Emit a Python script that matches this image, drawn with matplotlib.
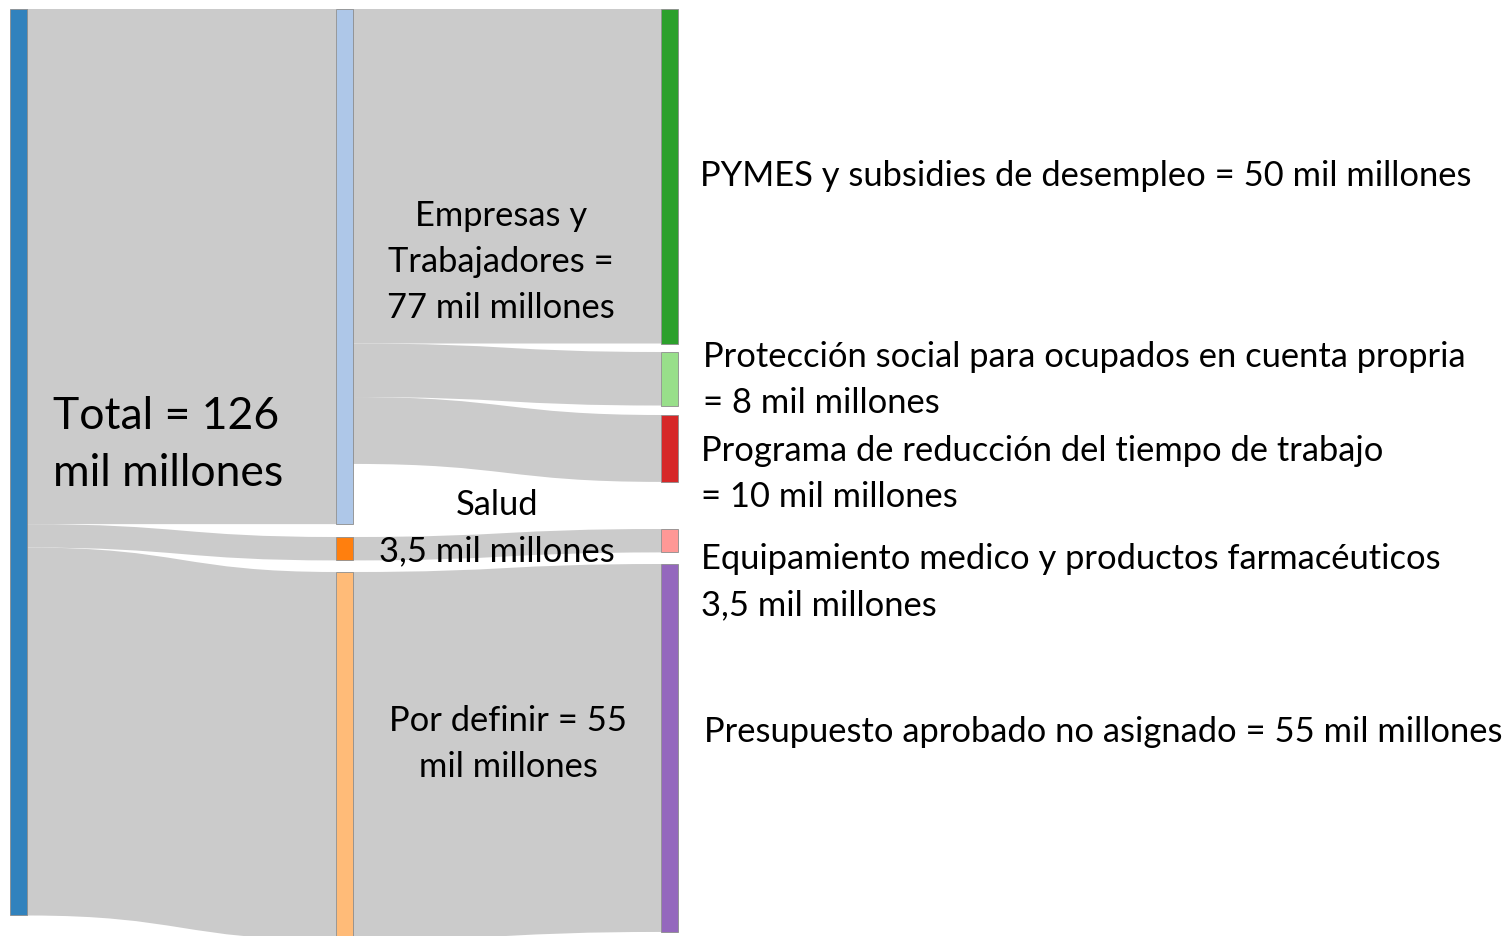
import matplotlib
matplotlib.use("Agg")
import matplotlib.pyplot as plt
from matplotlib.path import Path
from matplotlib.patches import PathPatch, Rectangle

# ---------------- data ----------------
node_names = ["Total", "Empresas y Trabajadores", "Salud", "Por definir",
              "PYMES y subsidies de desempleo", "Protección social",
              "Programa de reducción del tiempo de trabajo",
              "Equipamiento medico", "Presupuesto aprobado no asignado"]
node_values = [135.5, 77, 3.5, 55, 50, 8, 10, 3.5, 55]
node_colors = ["#3182bd", "#aec7e8", "#ff7f0e", "#ffbb78", "#2ca02c",
               "#98df8a", "#d62728", "#ff9896", "#9467bd"]
link_source = [0, 0, 0, 1, 1, 1, 2, 3]
link_target = [1, 2, 3, 4, 5, 6, 7, 8]
link_value = [77, 3.5, 55, 50, 8, 10, 3.5, 55]

node_labels = [
    "Total = 126\nmil millones",
    "Empresas y\nTrabajadores =\n77 mil millones",
    "Salud\n3,5 mil millones",
    "Por definir = 55\nmil millones",
    "PYMES y subsidies de desempleo = 50 mil millones",
    "Protección social para ocupados en cuenta propria\n= 8 mil millones",
    "Programa de reducción del tiempo de trabajo\n= 10 mil millones",
    "Equipamiento medico y productos farmacéuticos\n3,5 mil millones",
    "Presupuesto aprobado no asignado = 55 mil millones",
]

# ---------------- layout (pixels) ----------------
W, H = 1511, 937
scale = 6.69            # px per unit
node_w = 17
col_x = [10, 336, 661]
node_col = [0, 1, 1, 1, 2, 2, 2, 2, 2]
node_top = [10, 10, 538, 573, 10, 353, 416, 530, 565]

fig = plt.figure(figsize=(W / 100, H / 100), dpi=100)
ax = fig.add_axes([0, 0, 1, 1])
ax.set_xlim(0, W)
ax.set_ylim(H, 0)
ax.axis("off")

src_off = [0.0] * len(node_values)
tgt_off = [0.0] * len(node_values)
for s, t, v in zip(link_source, link_target, link_value):
    h = v * scale
    x0 = col_x[node_col[s]] + node_w
    x1 = col_x[node_col[t]]
    y0a = node_top[s] + src_off[s]
    y1a = node_top[t] + tgt_off[t]
    y0b, y1b = y0a + h, y1a + h
    src_off[s] += h
    tgt_off[t] += h
    xm = (x0 + x1) / 2
    verts = [(x0, y0a), (xm, y0a), (xm, y1a), (x1, y1a),
             (x1, y1b), (xm, y1b), (xm, y0b), (x0, y0b), (x0, y0a)]
    codes = [Path.MOVETO, Path.CURVE4, Path.CURVE4, Path.CURVE4,
             Path.LINETO, Path.CURVE4, Path.CURVE4, Path.CURVE4, Path.CLOSEPOLY]
    ax.add_patch(PathPatch(Path(verts, codes), facecolor="#cbcbcb",
                           edgecolor="none", zorder=1))

for i, v in enumerate(node_values):
    ax.add_patch(Rectangle((col_x[node_col[i]], node_top[i]), node_w, v * scale,
                           facecolor=node_colors[i], edgecolor="#8c8c8c",
                           linewidth=0.6, zorder=2))

font = "Lato"
fs = 24.8
ls = 1.53
ax.text(53, 445, node_labels[0], fontsize=32, family=font, ha="left",
        va="center", linespacing=1.49, zorder=3)
ax.text(501, 262, node_labels[1], fontsize=fs, family=font, ha="center",
        va="center", linespacing=ls, zorder=3)
ax.text(497, 528, node_labels[2], fontsize=fs, family=font, ha="center",
        va="center", linespacing=ls, zorder=3)
ax.text(508, 744, node_labels[3], fontsize=fs, family=font, ha="center",
        va="center", linespacing=ls, zorder=3)
ax.text(700, 176, node_labels[4], fontsize=fs, family=font, ha="left",
        va="center", zorder=3)
ax.text(703, 380, node_labels[5], fontsize=fs, family=font, ha="left",
        va="center", linespacing=ls, zorder=3)
ax.text(701, 474, node_labels[6], fontsize=fs, family=font, ha="left",
        va="center", linespacing=ls, zorder=3)
ax.text(701, 582, node_labels[7], fontsize=fs, family=font, ha="left",
        va="center", linespacing=ls, zorder=3)
ax.text(704, 732, node_labels[8], fontsize=fs, family=font, ha="left",
        va="center", zorder=3)

fig.savefig("out.png", dpi=100)
